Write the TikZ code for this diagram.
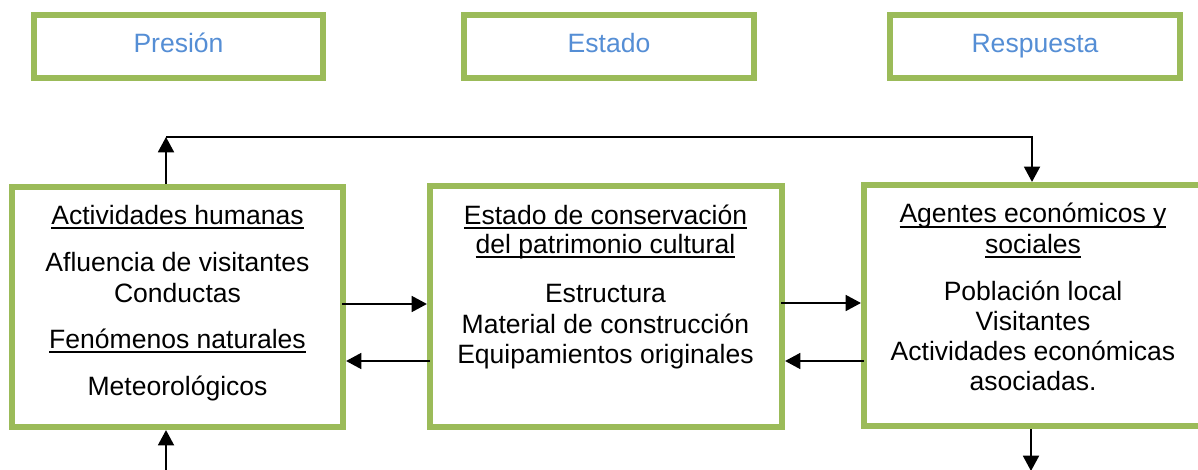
\documentclass[tikz,border=0pt]{standalone}
\usepackage{fontspec}
\setmainfont{Liberation Sans}
\usetikzlibrary{arrows.meta,fit}
\definecolor{boxgreen}{HTML}{9BBB59}
\definecolor{labelblue}{HTML}{558ED5}
\newcommand\myul[1]{\setbox0=\hbox{#1}\rlap{\rule[-3.4pt]{\wd0}{1.5pt}}\box0}
\tikzset{
  panel/.style={draw=boxgreen, line width=4.6pt, inner sep=0pt, fill=white},
  txt/.style={font=\fontsize{19.9}{22.9}\selectfont, inner sep=0pt, anchor=base, text=black},
  head/.style={font=\fontsize{19.9}{22.9}\selectfont, inner sep=0pt, anchor=base, text=labelblue},
  arr/.style={line width=1.4pt, -{Triangle[length=11.5pt,width=12pt]}},
  conn/.style={line width=1.4pt}
}
\begin{document}
\begin{tikzpicture}[x=0.75pt,y=-0.75pt]
\clip (0,0) rectangle (1198,470);
\fill[white] (0,0) rectangle (1198,470);
% header boxes
\node[panel, fit={(34,15) (323,78)}] (hp) {};
\node[panel, fit={(464,15) (754,78)}] (he) {};
\node[panel, fit={(890,15) (1180,78)}] (hr) {};
\node[head] (hpt) at (178.5,53) {Presión};
\node[head] (het) at (609,53) {Estado};
\node[head] (hrt) at (1035,53) {Respuesta};
% main boxes
\node[panel, fit={(12,187) (343,427)}] (lbox) {};
\node[panel, fit={(430,186) (782,427)}] (mbox) {};
\node[panel, fit={(864,185) (1203,426)}] (rbox) {};
% left box text
\node[txt] (l1) at (177.5,224) {\myul{Actividades humanas}};
\node[txt] (l2) at (177.5,272) {Afluencia de visitantes};
\node[txt] (l3) at (177.5,302) {Conductas};
\node[txt] (l4) at (177.5,348) {\myul{Fenómenos naturales}};
\node[txt] (l5) at (177.5,395) {Meteorológicos};
% middle box text
\node[txt] (m1) at (605.5,224) {\myul{Estado de conservación}};
\node[txt] (m2) at (605.5,253) {\myul{del patrimonio cultural}};
\node[txt] (m3) at (605.5,302) {Estructura};
\node[txt] (m4) at (605.5,333) {Material de construcción};
\node[txt] (m5) at (605.5,363) {Equipamientos originales};
% right box text
\node[txt] (r1) at (1033,223) {\myul{Agentes económicos y}};
\node[txt] (r2) at (1033,253) {\myul{sociales}};
\node[txt] (r3) at (1033,300) {Población local};
\node[txt] (r4) at (1033,330) {Visitantes};
\node[txt] (r5) at (1033,360) {Actividades económicas};
\node[txt] (r6) at (1033,390) {asociadas.};
% connectors
\coordinate (tl) at (166,137);
\coordinate (tr) at (1032,137);
\coordinate (bl) at (166,472);
\coordinate (br) at (1031,471);
\draw[arr] (lbox.north -| tl) -- (tl);
\draw[arr] (tl) -- (tr) -- (rbox.north -| tr);
\draw[arr] (bl) -- (lbox.south -| bl);
\draw[arr] (rbox.south -| br) -- (br);
\draw[arr] ([xshift=-3pt]lbox.east |- 0,304) -- (mbox.west |- 0,304);
\draw[arr] ([xshift=2pt]mbox.west |- 0,361) -- (lbox.east |- 0,361);
\draw[arr] ([xshift=-3pt]mbox.east |- 0,303) -- (rbox.west |- 0,303);
\draw[arr] ([xshift=2pt]rbox.west |- 0,361) -- (mbox.east |- 0,361);
\end{tikzpicture}
\end{document}
